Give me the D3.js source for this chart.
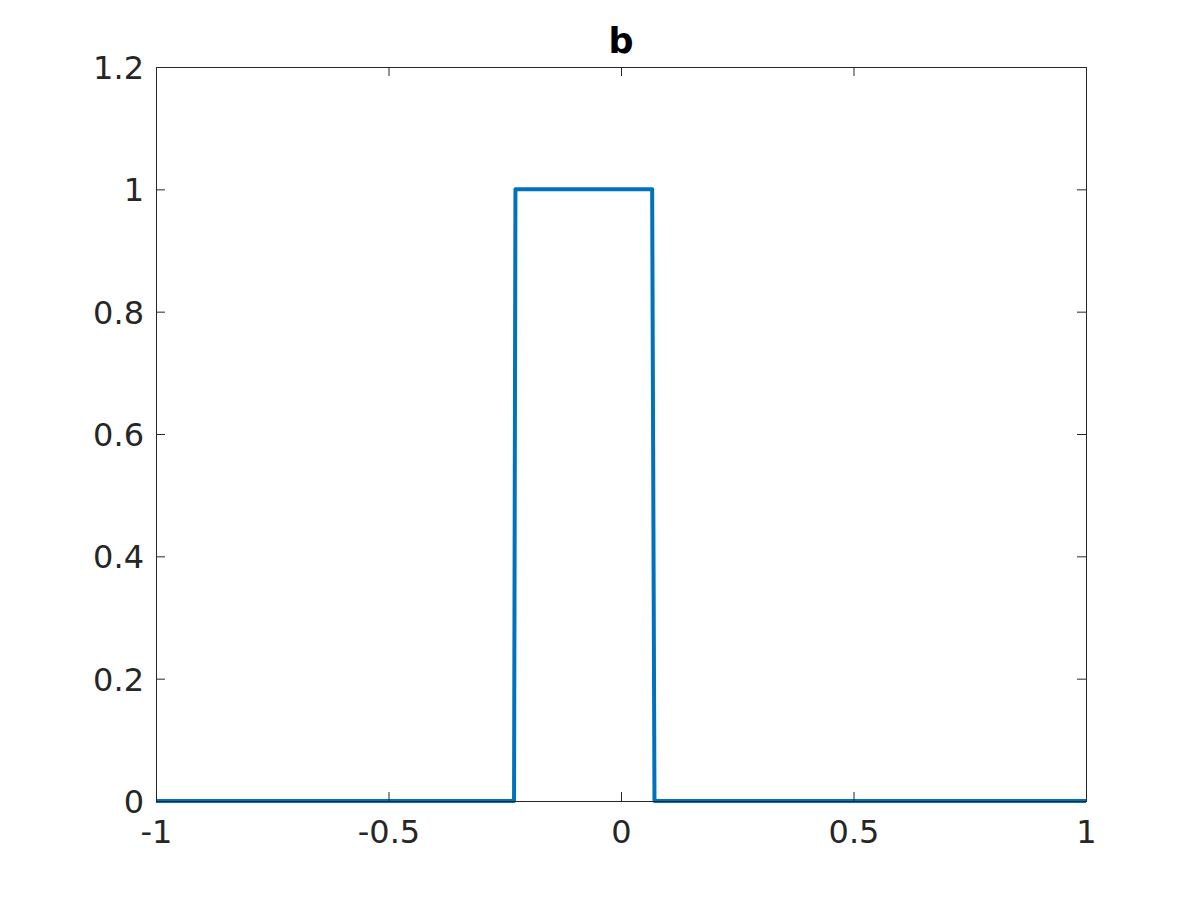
<!DOCTYPE html>
<html><head><meta charset="utf-8">
<script src="https://cdn.jsdelivr.net/npm/d3@7"></script>
<style>body{margin:0;background:#fff;} svg{display:block;}</style>
</head><body>
<script>
const titleText = "b";
const xValues = [-1, -0.230, -0.227, 0.067, 0.072, 1];
const yValues = [0, 0, 1, 1, 0, 0];
const xTicks = [-1, -0.5, 0, 0.5, 1];
const xTickLabels = ["-1", "-0.5", "0", "0.5", "1"];
const yTicks = [0, 0.2, 0.4, 0.6, 0.8, 1, 1.2];
const yTickLabels = ["0", "0.2", "0.4", "0.6", "0.8", "1", "1.2"];

const W = 1200, H = 900;
const L = 156, R = 1086, T = 67, B = 801;
const svg = d3.select("body").append("svg").attr("width", W).attr("height", H);
const x = d3.scaleLinear().domain([-1, 1]).range([L, R]);
const y = d3.scaleLinear().domain([0, 1.2]).range([B, T]);
const axisColor = "#262626";
const font = "DejaVu Sans, sans-serif";

const data = xValues.map((v, i) => [v, yValues[i]]);
svg.append("path").datum(data)
  .attr("fill", "none").attr("stroke", "#0072BD").attr("stroke-width", 4)
  .attr("stroke-linejoin", "round")
  .attr("d", d3.line().x(d => x(d[0])).y(d => y(d[1])));

function styleAxis(g) {
  g.select(".domain").remove();
  g.selectAll(".tick line").attr("stroke", axisColor).attr("stroke-width", 1);
  g.selectAll(".tick text").attr("fill", axisColor).style("font-family", font).style("font-size", "32px");
}
// bottom
svg.append("g").attr("transform", `translate(0,${B})`)
  .call(d3.axisBottom(x).tickValues(xTicks).tickFormat((d, i) => xTickLabels[i]).tickSizeInner(-9).tickSizeOuter(0).tickPadding(12))
  .call(styleAxis)
  .call(g => g.selectAll(".tick text").attr("y", 0).attr("dy", "1.3em"));
// top
svg.append("g").attr("transform", `translate(0,${T})`)
  .call(d3.axisTop(x).tickValues(xTicks).tickFormat("").tickSizeInner(-9).tickSizeOuter(0))
  .call(styleAxis);
// left
svg.append("g").attr("transform", `translate(${L},0)`)
  .call(d3.axisLeft(y).tickValues(yTicks).tickFormat((d, i) => yTickLabels[i]).tickSizeInner(-9).tickSizeOuter(0))
  .call(styleAxis)
  .call(g => g.selectAll(".tick text").attr("x", -12).attr("dy", "0.36em"));
// right
svg.append("g").attr("transform", `translate(${R},0)`)
  .call(d3.axisRight(y).tickValues(yTicks).tickFormat("").tickSizeInner(-9).tickSizeOuter(0))
  .call(styleAxis);

svg.append("rect").attr("x", L + 0.5).attr("y", T + 0.5).attr("width", R - L).attr("height", B - T)
  .attr("fill", "none").attr("stroke", axisColor).attr("stroke-width", 1);

svg.append("text").attr("x", x(0)).attr("y", 53).attr("text-anchor", "middle")
  .style("font-family", font).style("font-size", "35px").style("font-weight", "bold")
  .attr("fill", "#000").text(titleText);
</script>
</body></html>
